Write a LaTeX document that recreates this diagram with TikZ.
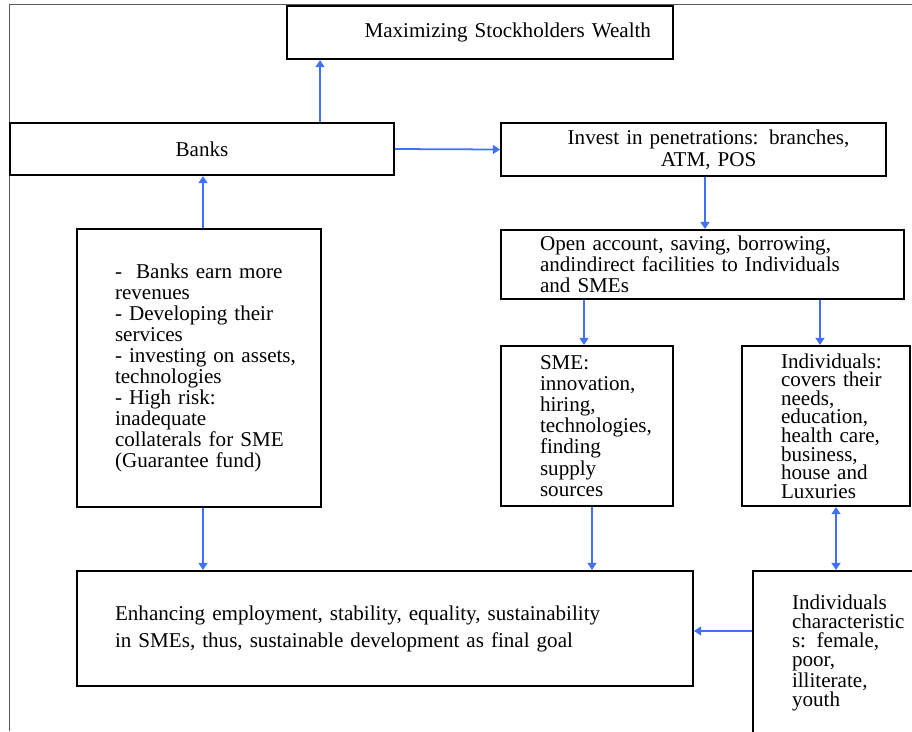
\documentclass[tikz,border=0pt]{standalone}
\usepackage{fontspec}
\setmainfont{Liberation Serif}
\usetikzlibrary{arrows.meta}
\definecolor{linkblue}{RGB}{64,112,255}

\begin{document}
\begin{tikzpicture}
  [x=0.02cm,y=-0.02cm,
   box/.style={draw,line width=1.2pt,inner sep=0pt,font=\fontsize{12}{12}\selectfont},
   textshift/.style={execute at begin node={\leftskip=#1\relax}},
   link/.style={linkblue,line width=1pt,-{Triangle[width=5pt,length=4pt]}}]
  \useasboundingbox (0,0) rectangle (912,731);
  \clip (0,0) rectangle (912,731);
  \draw[gray!70!black,line width=0.6pt] (9.5,731) -- (9.5,4.5) -- (912,4.5);

  \node[box,minimum width=7.72cm,minimum height=1.06cm,text width=6.84cm,align=right] (max) at (480,32.5) {Maximizing Stockholders Wealth};
  \node[box,minimum width=7.68cm,minimum height=1.04cm] (banks) at (202,149) {Banks};
  \node[box,minimum width=7.70cm,minimum height=1.06cm,text width=7.3cm,align=center,textshift=0.6cm plus 2em,font=\fontsize{12}{12.5}\selectfont] (invest) at (693.5,149.5) {Invest in penetrations: branches,\\ATM, POS};
  \node[box,minimum width=8.06cm,minimum height=1.38cm,text width=6.5cm,align=left] (open) at (702.5,264.5) {Open account, saving, borrowing,\\andindirect facilities to Individuals\\and SMEs};
  \node[box,minimum width=4.88cm,minimum height=5.56cm,text width=4.56cm,align=left,textshift=0.6cm] (bullets) at (199,368) {-\ \ Banks earn more\\revenues\\- Developing their\\services\\- investing on assets,\\technologies\\- High risk:\\inadequate\\collaterals for SME\\(Guarantee fund)};
  \node[box,minimum width=3.44cm,minimum height=3.2cm,text width=3.12cm,align=left,textshift=0.62cm] (sme) at (587,426) {SME:\\innovation,\\hiring,\\technologies,\\finding\\supply\\sources};
  \node[box,minimum width=3.36cm,minimum height=3.2cm,text width=3.04cm,align=left,textshift=0.62cm,font=\fontsize{12}{10.6}\selectfont] (indiv) at (826,426) {Individuals:\\covers their\\needs,\\education,\\health care,\\business,\\house and\\Luxuries};
  \node[box,minimum width=12.32cm,minimum height=2.3cm,text width=10.8cm,align=left,font=\fontsize{12}{15.4}\selectfont] (goal) at (385,628.5) {Enhancing employment, stability, equality, sustainability\\in SMEs, thus, sustainable development as final goal};
  \node[box,minimum width=3.88cm,minimum height=3.28cm,text width=2.32cm,align=left,font=\fontsize{12}{10.8}\selectfont] (chars) at (850,653) {Individuals\\characteristic\\s: female,\\poor,\\illiterate,\\youth};

  \foreach \from/\to/\x in {invest/open/705,open/sme/584,open/indiv/820,bullets/goal/203,sme/goal/592}
    \draw[link] (\x,0 |- \from.south) -- (\x,0 |- \to.north);
  \foreach \from/\to/\x in {bullets/banks/203,banks/max/320}
    \draw[link] (\x,0 |- \from.north) -- (\x,0 |- \to.south);
  \draw[link] (banks.east) -- (invest.west);
  \draw[link] (chars.west |- 0,631) -- (goal.east |- 0,631);
  \draw[link,{Triangle[width=5pt,length=4pt]}-{Triangle[width=5pt,length=4pt]}] (836,0 |- indiv.south) -- (836,0 |- chars.north);

\end{tikzpicture}
\end{document}
